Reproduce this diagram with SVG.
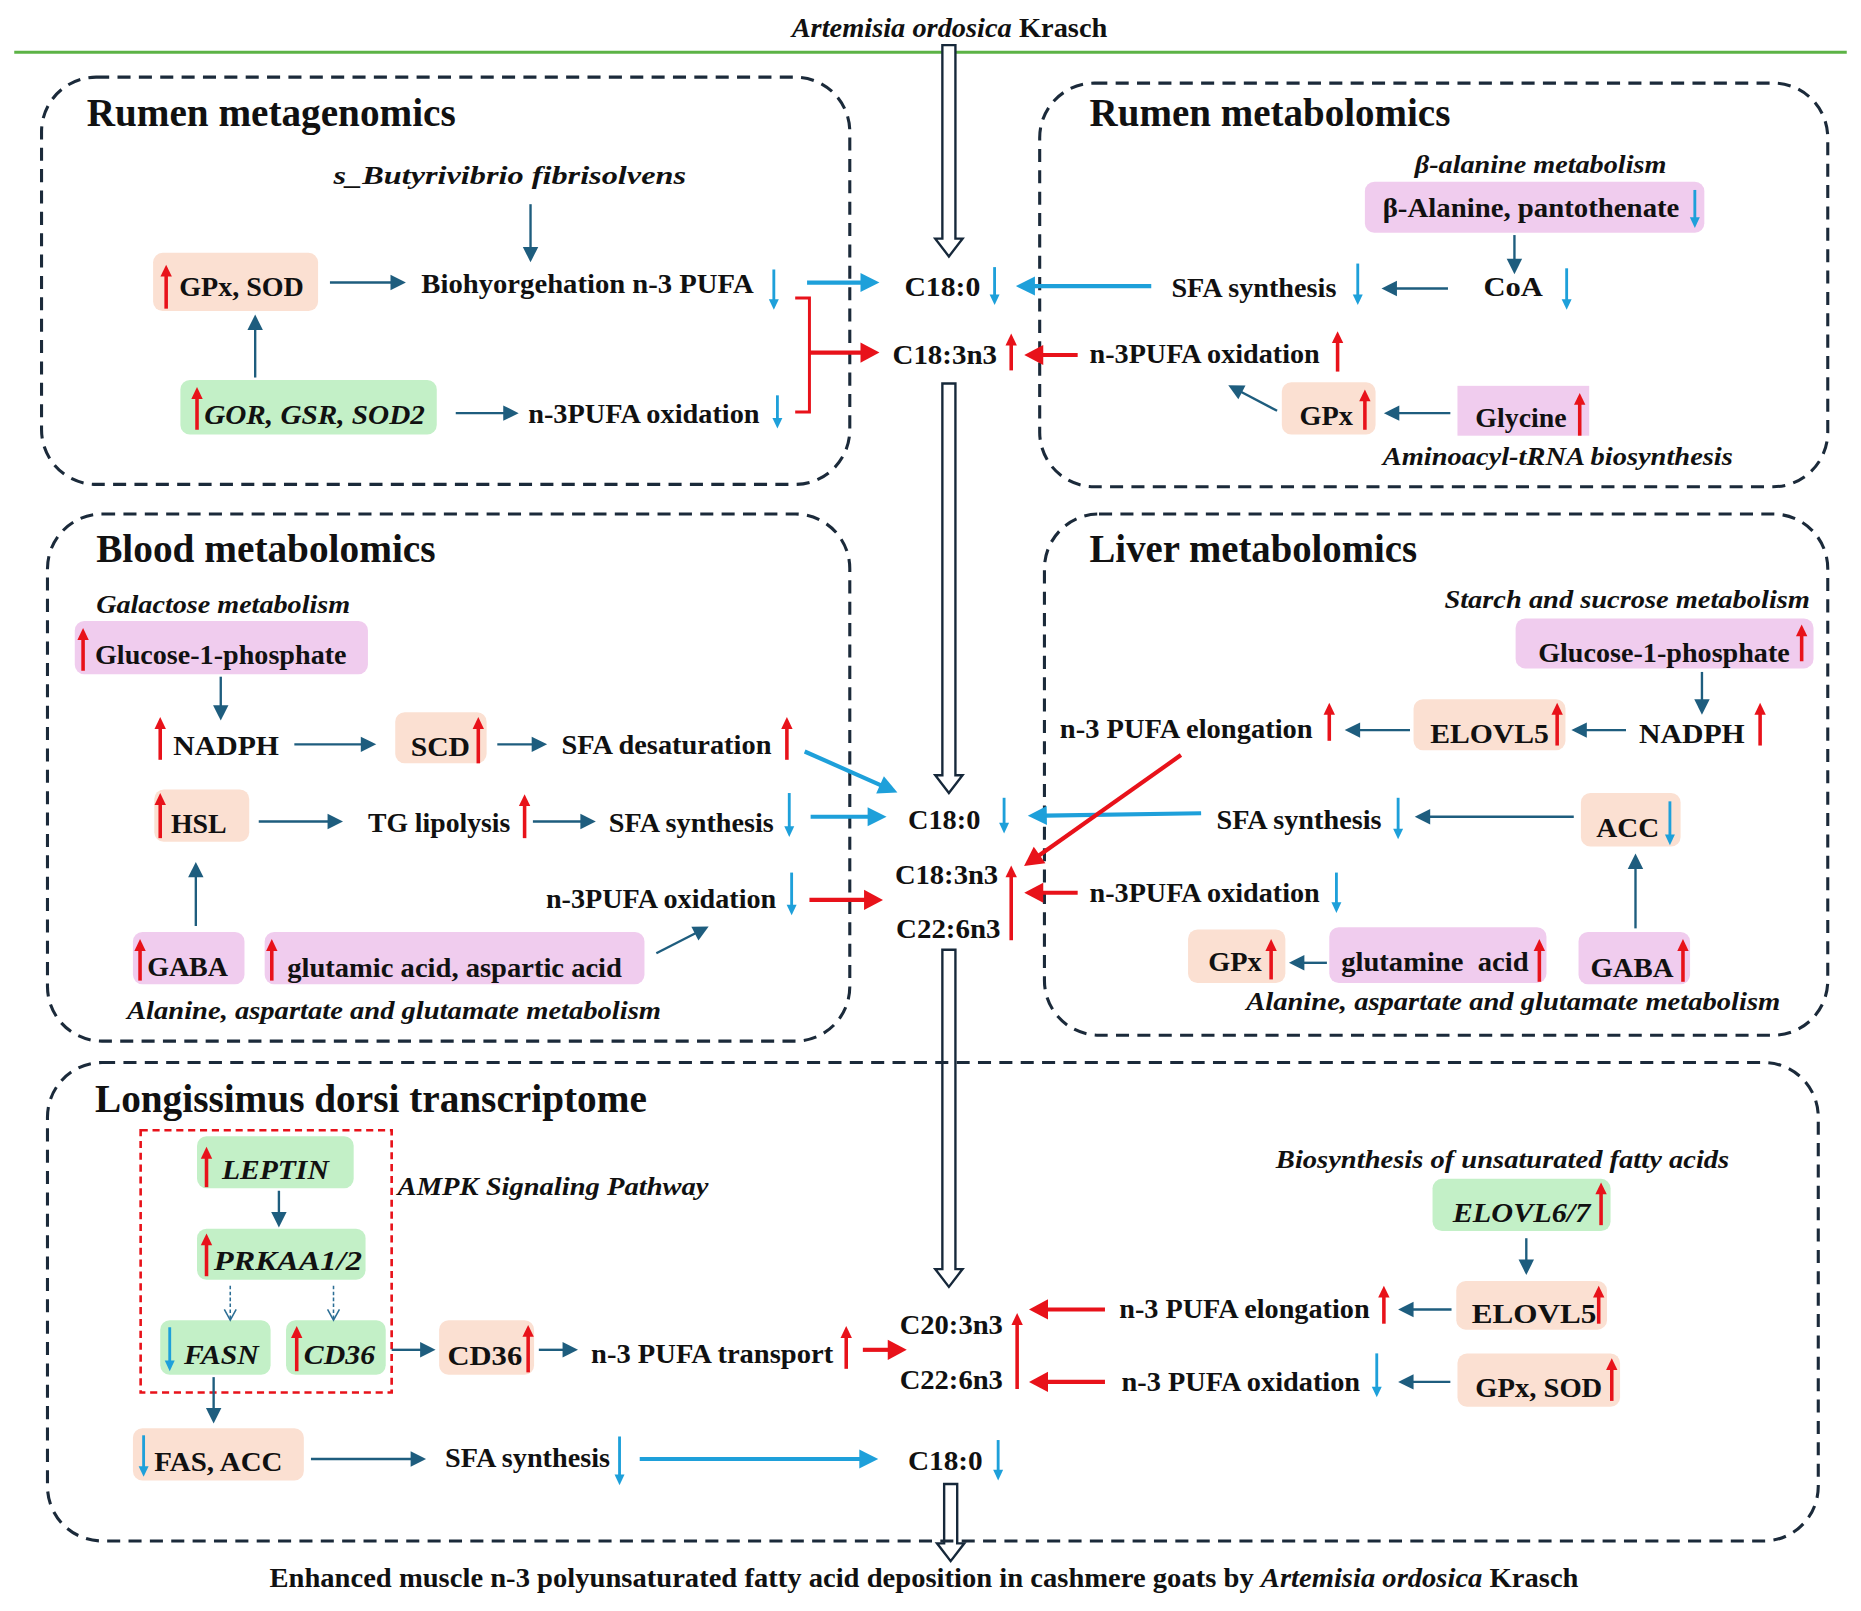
<svg xmlns="http://www.w3.org/2000/svg" width="1861" height="1611" viewBox="0 0 1861 1611">
<style>
.bx{fill:none;stroke:#1b2a3a;stroke-width:2.6;stroke-dasharray:11 7}
.t{font-family:"Liberation Serif","Times New Roman",serif;font-weight:bold;font-size:23px;fill:#111}
.i{font-style:italic}
.tt{font-size:33px}
.pw{font-size:22px;font-style:italic}
.pe{fill:#fbe0d2}
.pk{fill:#f0ccee}
.gr{fill:#c3f0c7}
.ta{stroke:#1e5d7e;stroke-width:2;fill:none;marker-end:url(#ht)}
.ba{stroke:#1ea0da;stroke-width:3.5;fill:none;marker-end:url(#hb)}
.ra{stroke:#e8121a;stroke-width:3.5;fill:none;marker-end:url(#hr)}
.ru{stroke:#e8121a;stroke-width:3;fill:none;marker-end:url(#hru)}
.bd{stroke:#1ea0da;stroke-width:2.4;fill:none;marker-end:url(#hbd)}
.da{stroke:#2c6e95;stroke-width:1.3;fill:none;stroke-dasharray:3 2;marker-end:url(#ho)}
.ha{fill:#fff;stroke:#16283a;stroke-width:2}
</style>
<defs>
<marker id="ht" markerUnits="userSpaceOnUse" viewBox="0 -7 14 14" markerWidth="14" markerHeight="14" refX="1" refY="0" orient="auto" overflow="visible"><path d="M0,-6.5 L13,0 L0,6.5 z" fill="#1e5d7e"/></marker>
<marker id="hb" markerUnits="userSpaceOnUse" viewBox="0 -9 17 18" markerWidth="17" markerHeight="18" refX="1" refY="0" orient="auto" overflow="visible"><path d="M0,-8 L16,0 L0,8 z" fill="#1ea0da"/></marker>
<marker id="hr" markerUnits="userSpaceOnUse" viewBox="0 -9 17 18" markerWidth="17" markerHeight="18" refX="1" refY="0" orient="auto" overflow="visible"><path d="M0,-8.5 L16,0 L0,8.5 z" fill="#e8121a"/></marker>
<marker id="hru" markerUnits="userSpaceOnUse" viewBox="0 -5 11 10" markerWidth="11" markerHeight="10" refX="1" refY="0" orient="auto" overflow="visible"><path d="M0,-4.8 L10,0 L0,4.8 z" fill="#e8121a"/></marker>
<marker id="hbd" markerUnits="userSpaceOnUse" viewBox="0 -5 10 10" markerWidth="10" markerHeight="10" refX="1" refY="0" orient="auto" overflow="visible"><path d="M0,-4.2 L9,0 L0,4.2 z" fill="#1ea0da"/></marker>
<marker id="ho" markerUnits="userSpaceOnUse" viewBox="-1 -6 11 12" markerWidth="11" markerHeight="12" refX="9" refY="0" orient="auto" overflow="visible"><path d="M0,-5 L9,0 L0,5" fill="none" stroke="#2c6e95" stroke-width="1.3"/></marker>
</defs>
<rect width="1861" height="1611" fill="#fff"/>
<g transform="scale(1.18686 1.18718)">

<g id="header">
<line x1="12" y1="44" x2="1556" y2="44" stroke="#5cb346" stroke-width="2.5"/>
<text class="t" x="667" y="31" font-size="22" textLength="266" lengthAdjust="spacingAndGlyphs"><tspan class="i">Artemisia ordosica</tspan> Krasch</text>
</g>

<g id="main-flow">
<path class="ha" d="M794,38 H805 V201 H811 L799.5,216 L788,201 H794 Z"/>
<path class="ha" d="M794,323 H805 V653 H811 L799.5,668 L788,653 H794 Z"/>
<path class="ha" d="M794,800 H805 V1069 H811 L799.5,1084 L788,1069 H794 Z"/>
<path class="ha" d="M795.5,1250 H806.5 V1300 H812.5 L801,1315 L789.5,1300 H795.5 Z"/>
<text class="t" x="762" y="249" textLength="64" lengthAdjust="spacingAndGlyphs">C18:0</text>
<text class="t" x="752" y="307" textLength="88" lengthAdjust="spacingAndGlyphs">C18:3n3</text>
<text class="t" x="765" y="698" textLength="61" lengthAdjust="spacingAndGlyphs">C18:0</text>
<text class="t" x="754" y="745" textLength="87" lengthAdjust="spacingAndGlyphs">C18:3n3</text>
<text class="t" x="755" y="790" textLength="88" lengthAdjust="spacingAndGlyphs">C22:6n3</text>
<text class="t" x="758" y="1124" textLength="87" lengthAdjust="spacingAndGlyphs">C20:3n3</text>
<text class="t" x="758" y="1170" textLength="87" lengthAdjust="spacingAndGlyphs">C22:6n3</text>
<text class="t" x="765" y="1238" textLength="63" lengthAdjust="spacingAndGlyphs">C18:0</text>
<text class="t" x="227" y="1337" font-size="22" textLength="1103" lengthAdjust="spacingAndGlyphs">Enhanced muscle n-3 polyunsaturated fatty acid deposition in cashmere goats by <tspan class="i">Artemisia ordosica</tspan> Krasch</text>
</g>

<g id="rumen-metagenomics">
<rect class="bx" x="35" y="65" width="681" height="343" rx="46"/>
<text class="t tt" x="73" y="106" textLength="311" lengthAdjust="spacingAndGlyphs">Rumen metagenomics</text>
<text class="t pw" x="281" y="155" textLength="297" lengthAdjust="spacingAndGlyphs">s_Butyrivibrio fibrisolvens</text>
<rect class="pe" x="129" y="213" width="139" height="49" rx="8"/>
<text class="t" x="151" y="249" textLength="105" lengthAdjust="spacingAndGlyphs">GPx, SOD</text>
<text class="t" x="355" y="247" textLength="280" lengthAdjust="spacingAndGlyphs">Biohyorgehation n-3 PUFA</text>
<rect class="gr" x="152" y="320" width="216" height="46" rx="8"/>
<text class="t i" x="172" y="357" textLength="186" lengthAdjust="spacingAndGlyphs">GOR, GSR, SOD2</text>
<text class="t" x="445" y="356" textLength="195" lengthAdjust="spacingAndGlyphs">n-3PUFA oxidation</text>
</g>

<g id="rumen-metabolomics">
<rect class="bx" x="876" y="70" width="664" height="340" rx="46"/>
<text class="t tt" x="918" y="106" textLength="304" lengthAdjust="spacingAndGlyphs">Rumen metabolomics</text>
<text class="t pw" x="1192" y="146" textLength="212" lengthAdjust="spacingAndGlyphs">β-alanine metabolism</text>
<rect class="pk" x="1150" y="153" width="286" height="43" rx="8"/>
<text class="t" x="1165" y="183" textLength="250" lengthAdjust="spacingAndGlyphs">β-Alanine, pantothenate</text>
<text class="t" x="1250" y="249" textLength="50" lengthAdjust="spacingAndGlyphs">CoA</text>
<text class="t" x="987" y="250" textLength="139" lengthAdjust="spacingAndGlyphs">SFA synthesis</text>
<text class="t" x="918" y="306" textLength="194" lengthAdjust="spacingAndGlyphs">n-3PUFA oxidation</text>
<rect class="pe" x="1080" y="322" width="79" height="44" rx="8"/>
<text class="t" x="1095" y="358" textLength="45" lengthAdjust="spacingAndGlyphs">GPx</text>
<rect class="pk" x="1228" y="325" width="111" height="42"/>
<text class="t" x="1243" y="360" textLength="77" lengthAdjust="spacingAndGlyphs">Glycine</text>
<text class="t pw" x="1165" y="392" textLength="295" lengthAdjust="spacingAndGlyphs">Aminoacyl-tRNA biosynthesis</text>
</g>

<g id="blood-metabolomics">
<rect class="bx" x="40" y="433" width="676" height="444" rx="46"/>
<text class="t tt" x="81" y="473" textLength="286" lengthAdjust="spacingAndGlyphs">Blood metabolomics</text>
<text class="t pw" x="81" y="516" textLength="214" lengthAdjust="spacingAndGlyphs">Galactose metabolism</text>
<rect class="pk" x="63" y="523" width="247" height="45" rx="8"/>
<text class="t" x="80" y="559" textLength="212" lengthAdjust="spacingAndGlyphs">Glucose-1-phosphate</text>
<text class="t" x="146" y="636" textLength="89" lengthAdjust="spacingAndGlyphs">NADPH</text>
<rect class="pe" x="333" y="600" width="77" height="43" rx="8"/>
<text class="t" x="346" y="637" textLength="50" lengthAdjust="spacingAndGlyphs">SCD</text>
<text class="t" x="473" y="635" textLength="177" lengthAdjust="spacingAndGlyphs">SFA desaturation</text>
<rect class="pe" x="130" y="665" width="80" height="44" rx="8"/>
<text class="t" x="144" y="702" textLength="47" lengthAdjust="spacingAndGlyphs">HSL</text>
<text class="t" x="310" y="701" textLength="120" lengthAdjust="spacingAndGlyphs">TG lipolysis</text>
<text class="t" x="513" y="701" textLength="139" lengthAdjust="spacingAndGlyphs">SFA synthesis</text>
<text class="t" x="460" y="765" textLength="194" lengthAdjust="spacingAndGlyphs">n-3PUFA oxidation</text>
<rect class="pk" x="112" y="785" width="94" height="44" rx="8"/>
<text class="t" x="124" y="822" textLength="68" lengthAdjust="spacingAndGlyphs">GABA</text>
<rect class="pk" x="223" y="785" width="320" height="44" rx="8"/>
<text class="t" x="242" y="823" textLength="282" lengthAdjust="spacingAndGlyphs">glutamic acid, aspartic acid</text>
<text class="t pw" x="107" y="858" textLength="450" lengthAdjust="spacingAndGlyphs">Alanine, aspartate and glutamate metabolism</text>
</g>

<g id="liver-metabolomics">
<rect class="bx" x="880" y="433" width="660" height="439" rx="46"/>
<text class="t tt" x="918" y="473" textLength="276" lengthAdjust="spacingAndGlyphs">Liver metabolomics</text>
<text class="t pw" x="1217" y="512" textLength="308" lengthAdjust="spacingAndGlyphs">Starch and sucrose metabolism</text>
<rect class="pk" x="1277" y="521" width="251" height="42" rx="8"/>
<text class="t" x="1296" y="558" textLength="212" lengthAdjust="spacingAndGlyphs">Glucose-1-phosphate</text>
<text class="t" x="1381" y="626" textLength="89" lengthAdjust="spacingAndGlyphs">NADPH</text>
<rect class="pe" x="1191" y="589" width="128" height="43" rx="8"/>
<text class="t" x="1205" y="626" textLength="100" lengthAdjust="spacingAndGlyphs">ELOVL5</text>
<text class="t" x="893" y="622" textLength="213" lengthAdjust="spacingAndGlyphs">n-3 PUFA elongation</text>
<text class="t" x="1025" y="698" textLength="139" lengthAdjust="spacingAndGlyphs">SFA synthesis</text>
<rect class="pe" x="1332" y="668" width="84" height="45" rx="8"/>
<text class="t" x="1345" y="705" textLength="53" lengthAdjust="spacingAndGlyphs">ACC</text>
<text class="t" x="918" y="760" textLength="194" lengthAdjust="spacingAndGlyphs">n-3PUFA oxidation</text>
<rect class="pe" x="1001" y="783" width="82" height="45" rx="8"/>
<text class="t" x="1018" y="818" textLength="45" lengthAdjust="spacingAndGlyphs">GPx</text>
<rect class="pk" x="1120" y="781" width="183" height="47" rx="8"/>
<text class="t" x="1130" y="818" textLength="158" lengthAdjust="spacingAndGlyphs" xml:space="preserve">glutamine  acid</text>
<rect class="pk" x="1330" y="785" width="94" height="44" rx="8"/>
<text class="t" x="1340" y="823" textLength="70" lengthAdjust="spacingAndGlyphs">GABA</text>
<text class="t pw" x="1050" y="851" textLength="450" lengthAdjust="spacingAndGlyphs">Alanine, aspartate and glutamate metabolism</text>
</g>

<g id="longissimus-dorsi-transcriptome">
<rect class="bx" x="40" y="895" width="1492" height="403" rx="46"/>
<text class="t tt" x="80" y="937" textLength="465" lengthAdjust="spacingAndGlyphs">Longissimus dorsi transcriptome</text>
<rect x="118.5" y="952" width="211.5" height="221" fill="none" stroke="#e8121a" stroke-width="2.2" stroke-dasharray="6 4"/>
<rect class="gr" x="166" y="957" width="132" height="44" rx="8"/>
<text class="t i" x="187" y="993" textLength="90" lengthAdjust="spacingAndGlyphs">LEPTIN</text>
<text class="t pw" x="335" y="1007" textLength="262" lengthAdjust="spacingAndGlyphs">AMPK Signaling Pathway</text>
<rect class="gr" x="166" y="1035" width="142" height="43" rx="8"/>
<text class="t i" x="180" y="1070" textLength="125" lengthAdjust="spacingAndGlyphs">PRKAA1/2</text>
<rect class="gr" x="135" y="1112" width="93" height="46" rx="8"/>
<text class="t i" x="155" y="1149" textLength="63" lengthAdjust="spacingAndGlyphs">FASN</text>
<rect class="gr" x="241" y="1112" width="84" height="46" rx="8"/>
<text class="t i" x="256" y="1149" textLength="60" lengthAdjust="spacingAndGlyphs">CD36</text>
<rect class="pe" x="370" y="1112" width="80" height="46" rx="8"/>
<text class="t" x="377" y="1150" textLength="63" lengthAdjust="spacingAndGlyphs">CD36</text>
<text class="t" x="498" y="1148" textLength="204" lengthAdjust="spacingAndGlyphs">n-3 PUFA transport</text>
<rect class="pe" x="112" y="1203" width="144" height="44" rx="8"/>
<text class="t" x="130" y="1239" textLength="108" lengthAdjust="spacingAndGlyphs">FAS, ACC</text>
<text class="t" x="375" y="1236" textLength="139" lengthAdjust="spacingAndGlyphs">SFA synthesis</text>
<text class="t pw" x="1075" y="984" textLength="382" lengthAdjust="spacingAndGlyphs">Biosynthesis of unsaturated fatty acids</text>
<rect class="gr" x="1207" y="993" width="150" height="44" rx="8"/>
<text class="t i" x="1224" y="1029" textLength="116" lengthAdjust="spacingAndGlyphs">ELOVL6/7</text>
<rect class="pe" x="1227" y="1079" width="127" height="41" rx="8"/>
<text class="t" x="1240" y="1114" textLength="105" lengthAdjust="spacingAndGlyphs">ELOVL5</text>
<text class="t" x="943" y="1110" textLength="211" lengthAdjust="spacingAndGlyphs">n-3 PUFA elongation</text>
<rect class="pe" x="1228" y="1140" width="137" height="45" rx="8"/>
<text class="t" x="1243" y="1177" textLength="107" lengthAdjust="spacingAndGlyphs">GPx, SOD</text>
<text class="t" x="945" y="1172" textLength="201" lengthAdjust="spacingAndGlyphs">n-3 PUFA oxidation</text>
</g>

<g id="connectors">
<path class="ta" d="M447,172 V209"/>
<path class="ta" d="M278,238 H330"/>
<path class="ta" d="M215,318 V277"/>
<path class="ta" d="M384,348 H425"/>
<path class="ta" d="M1276,198 V219"/>
<path class="ta" d="M1220,243 H1176"/>
<path class="ta" d="M1076,346 L1045.5,330"/>
<path class="ta" d="M1222,348 H1178"/>
<path class="ta" d="M186,570 V595"/>
<path class="ta" d="M248,627 H305"/>
<path class="ta" d="M419,627 H449"/>
<path class="ta" d="M218,692 H277"/>
<path class="ta" d="M449,692 H490"/>
<path class="ta" d="M165,780 V738"/>
<path class="ta" d="M553,803 L586.4,785.9"/>
<path class="ta" d="M1434,566 V590"/>
<path class="ta" d="M1370,615 H1336"/>
<path class="ta" d="M1188,615 H1145"/>
<path class="ta" d="M1326,688 H1204"/>
<path class="ta" d="M1378,782 V731"/>
<path class="ta" d="M1118,811 H1098"/>
<path class="ta" d="M235,1003 V1022"/>
<path class="ta" d="M330,1137 H355"/>
<path class="ta" d="M454,1137 H475"/>
<path class="ta" d="M180,1160 V1187"/>
<path class="ta" d="M262,1229 H347"/>
<path class="ta" d="M1286,1043 V1062"/>
<path class="ta" d="M1223,1103 H1190"/>
<path class="ta" d="M1222,1164 H1190"/>
<path class="da" d="M194,1083 V1112"/>
<path class="da" d="M281,1083 V1112"/>
<path class="ba" d="M680,238 H726"/>
<path class="ba" d="M970,241 H871"/>
<path class="ba" d="M678,633 L742.4,661.5"/>
<path class="ba" d="M683,688 H732"/>
<path class="ba" d="M1012,685 L881,687"/>
<path class="ba" d="M539,1229 H725"/>
<path d="M670,251 H682 V347 H670" fill="none" stroke="#e8121a" stroke-width="2.5"/>
<path class="ra" d="M682,297 H726"/>
<path class="ra" d="M908,299 H878"/>
<path class="ra" d="M682,758 H729"/>
<path class="ra" d="M995,636 L875.1,720.8"/>
<path class="ra" d="M908,752 H878"/>
<path class="ra" d="M727,1137 H749"/>
<path class="ra" d="M931,1103 H882"/>
<path class="ra" d="M931,1164 H882"/>
<path class="ru" d="M140,260 V232"/>
<path class="ru" d="M166,362 V335"/>
<path class="ru" d="M852,312 V290"/>
<path class="ru" d="M852,792 V738"/>
<path class="ru" d="M857,1170 V1115"/>
<path class="ru" d="M1127,313 V288"/>
<path class="ru" d="M1150,362 V337"/>
<path class="ru" d="M1331,367 V340"/>
<path class="ru" d="M70,565 V538"/>
<path class="ru" d="M135,640 V613"/>
<path class="ru" d="M403,643 V613"/>
<path class="ru" d="M663,640 V613"/>
<path class="ru" d="M135,706 V677"/>
<path class="ru" d="M442,706 V678"/>
<path class="ru" d="M118,826 V800"/>
<path class="ru" d="M229,826 V800"/>
<path class="ru" d="M1518,557 V535"/>
<path class="ru" d="M1483,628 V601"/>
<path class="ru" d="M1312,628 V601"/>
<path class="ru" d="M1120,624 V601"/>
<path class="ru" d="M1071,825 V800"/>
<path class="ru" d="M1297,827 V800"/>
<path class="ru" d="M1418,827 V800"/>
<path class="ru" d="M174,1000 V975"/>
<path class="ru" d="M174,1075 V1048"/>
<path class="ru" d="M250,1155 V1126"/>
<path class="ru" d="M445,1156 V1125"/>
<path class="ru" d="M713,1153 V1126"/>
<path class="ru" d="M1349,1032 V1005"/>
<path class="ru" d="M1347,1115 V1092"/>
<path class="ru" d="M1166,1115 V1092"/>
<path class="ru" d="M1358,1180 V1153"/>
<path class="bd" d="M652,227 V253"/>
<path class="bd" d="M655,333 V353"/>
<path class="bd" d="M838,225 V249"/>
<path class="bd" d="M1428,160 V184"/>
<path class="bd" d="M1320,226 V253"/>
<path class="bd" d="M1144,222 V249"/>
<path class="bd" d="M665,668 V697"/>
<path class="bd" d="M667,735 V763"/>
<path class="bd" d="M846,672 V694"/>
<path class="bd" d="M1178,672 V699"/>
<path class="bd" d="M1407,675 V704"/>
<path class="bd" d="M1126,735 V761"/>
<path class="bd" d="M143,1118 V1147"/>
<path class="bd" d="M121,1209 V1236"/>
<path class="bd" d="M522,1210 V1243"/>
<path class="bd" d="M841,1213 V1239"/>
<path class="bd" d="M1160,1140 V1169"/>
</g>
</g>
</svg>
